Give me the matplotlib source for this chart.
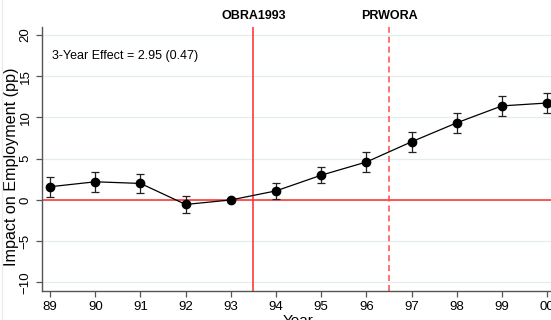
import matplotlib.pyplot as plt
from matplotlib.lines import Line2D

plt.rcParams['font.family'] = ['Liberation Sans', 'DejaVu Sans']

# Event-study estimates
years = [89, 90, 91, 92, 93, 94, 95, 96, 97, 98, 99, 100]
year_labels = ['89', '90', '91', '92', '93', '94', '95', '96', '97', '98', '99', '00']
effect = [1.6, 2.2, 2.0, -0.55, 0.0, 1.1, 3.0, 4.6, 7.05, 9.35, 11.4, 11.75]
err = [1.2, 1.2, 1.15, 1.0, 0.0, 1.0, 1.0, 1.2, 1.2, 1.2, 1.2, 1.2]
y_ticks = [-10, -5, 0, 5, 10, 15, 20]

fig = plt.figure(figsize=(5.51, 3.2), dpi=100)
ax = fig.add_axes([0.0762, 0.0916, 0.93, 0.825])

# faint outer frame line on the left
fig.add_artist(Line2D([0.003, 0.003], [0.0, 1.0], transform=fig.transFigure,
                      color='#e8eef0', lw=1.0))

ax.grid(axis='y', color='#e3ecee', lw=0.9)
ax.set_axisbelow(True)

ax.axhline(0, color='#ff2a2a', lw=1.1, zorder=1)
ax.axvline(93.5, color='#ff2a2a', lw=1.1, zorder=1)
ax.axvline(96.5, color='#ff4a4a', lw=1.1, ls=(0, (4, 2.5)), zorder=1)

ax.errorbar(years, effect, yerr=err, color='black', lw=0.9, marker='o',
            markersize=6, capsize=3.2, capthick=0.9, elinewidth=0.9,
            ecolor='#222222', zorder=3)

ax.set_xlim(88.82, 100.16)
ax.set_ylim(-11, 21)
ax.set_xticks(years)
ax.set_xticklabels(year_labels)
ax.set_yticks(y_ticks)
ax.tick_params(axis='both', labelsize=9.5, color='#555555', length=4, width=0.9)
for lbl in ax.get_yticklabels():
    lbl.set_rotation(90)
    lbl.set_va('center')

for s in ['top', 'right']:
    ax.spines[s].set_visible(False)
for s in ['left', 'bottom']:
    ax.spines[s].set_color('#555555')
    ax.spines[s].set_linewidth(1.0)

ax.set_ylabel('Impact on Employment (pp)', fontsize=11.6)
ax.yaxis.set_label_coords(-0.044, 0.468)
ax.set_xlabel('Year', fontsize=11, labelpad=1)

ax.text(93.5, 21.6, 'OBRA1993', ha='center', va='bottom', fontsize=9,
        fontweight='bold')
ax.text(96.5, 21.6, 'PRWORA', ha='center', va='bottom', fontsize=9,
        fontweight='bold')
ax.text(89.05, 17.45, '3-Year Effect = 2.95 (0.47)', ha='left', va='center',
        fontsize=9)

plt.savefig('out.png', dpi=100)
